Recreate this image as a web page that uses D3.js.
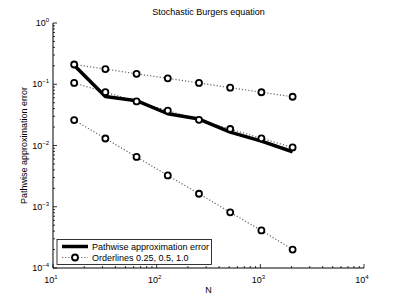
<!DOCTYPE html>
<html>
<head>
<meta charset="utf-8">
<script src="https://cdn.jsdelivr.net/npm/d3@7"></script>
<style>
  body { margin: 0; background: #fff; }
  text { font-family: "Liberation Sans", Arial, sans-serif; fill: #000; }
</style>
</head>
<body>
<div id="chart"></div>
<script>
// Data
const nValues = [16, 32, 64, 128, 256, 512, 1024, 2048];
const pathwiseError = [0.205, 0.063, 0.054, 0.033, 0.027, 0.0165, 0.0118, 0.0079];
const order025 = [0.21, 0.177, 0.148, 0.125, 0.105, 0.088, 0.074, 0.0625];
const order05 = [0.105, 0.0742, 0.0525, 0.0371, 0.0263, 0.0186, 0.0131, 0.0093];
const order10 = [0.026, 0.013, 0.0065, 0.00325, 0.00163, 0.00081, 0.00041, 0.0002];
const xDecades = [1, 2, 3, 4];
const yDecades = [0, -1, -2, -3, -4];

const width = 403, height = 303;
const mLeft = 53, mRight = 364, mTop = 23, mBottom = 268;

const svg = d3.select('#chart').append('svg')
  .attr('width', width)
  .attr('height', height);

const x = d3.scaleLog().domain([10, 10000]).range([mLeft, mRight]);
const y = d3.scaleLog().domain([1e-4, 1]).range([mBottom, mTop]);

// minor tick positions for each decade
function minorTicks(lo, hi) {
  const out = [];
  for (let e = lo; e < hi; e++) {
    for (let m = 2; m <= 9; m++) out.push(m * Math.pow(10, e));
  }
  return out;
}

// axes lines
svg.append('line').attr('x1', mLeft).attr('x2', mRight).attr('y1', mBottom).attr('y2', mBottom)
  .attr('stroke', '#000').attr('stroke-width', 1);
svg.append('line').attr('x1', mLeft).attr('x2', mLeft).attr('y1', mTop).attr('y2', mBottom)
  .attr('stroke', '#000').attr('stroke-width', 1);

// x ticks (inward)
svg.append('g').selectAll('line').data(minorTicks(1, 4)).enter().append('line')
  .attr('x1', d => x(d)).attr('x2', d => x(d))
  .attr('y1', mBottom).attr('y2', mBottom - 2)
  .attr('stroke', '#000').attr('stroke-width', 0.8);
svg.append('g').selectAll('line').data(xDecades).enter().append('line')
  .attr('x1', d => x(Math.pow(10, d))).attr('x2', d => x(Math.pow(10, d)))
  .attr('y1', mBottom).attr('y2', mBottom - 4)
  .attr('stroke', '#000').attr('stroke-width', 0.8);

// y ticks (inward)
svg.append('g').selectAll('line').data(minorTicks(-4, 0)).enter().append('line')
  .attr('y1', d => y(d)).attr('y2', d => y(d))
  .attr('x1', mLeft).attr('x2', mLeft + 2)
  .attr('stroke', '#000').attr('stroke-width', 0.8);
svg.append('g').selectAll('line').data(yDecades).enter().append('line')
  .attr('y1', d => y(Math.pow(10, d))).attr('y2', d => y(Math.pow(10, d)))
  .attr('x1', mLeft).attr('x2', mLeft + 4)
  .attr('stroke', '#000').attr('stroke-width', 0.8);

// tick labels with superscripts
const xl = svg.append('g').selectAll('text').data(xDecades).enter().append('text')
  .attr('x', d => x(Math.pow(10, d)) - 2)
  .attr('y', mBottom + 15)
  .attr('text-anchor', 'middle')
  .style('font-size', '9px');
xl.append('tspan').text('10');
xl.append('tspan').attr('dy', -4).style('font-size', '6px').text(d => d);

const yl = svg.append('g').selectAll('text').data(yDecades).enter().append('text')
  .attr('x', mLeft - 4)
  .attr('y', d => y(Math.pow(10, d)) + 3)
  .attr('text-anchor', 'end')
  .style('font-size', '9px');
yl.append('tspan').text('10');
yl.append('tspan').attr('dy', -4).style('font-size', '6px').text(d => d === 0 ? '0' : '\u2212' + (-d));

// title and axis labels
svg.append('text').attr('x', (mLeft + mRight) / 2).attr('y', 15)
  .attr('text-anchor', 'middle').style('font-size', '9px')
  .text('Stochastic Burgers equation');
svg.append('text').attr('x', (mLeft + mRight) / 2).attr('y', 293)
  .attr('text-anchor', 'middle').style('font-size', '9px')
  .text('N');
svg.append('text')
  .attr('transform', `translate(27,${(mTop + mBottom) / 2}) rotate(-90)`)
  .attr('text-anchor', 'middle').style('font-size', '9px')
  .text('Pathwise approximation error');

// order lines
const orderSeries = [order025, order05, order10];
const line = d3.line().x((d, i) => x(nValues[i])).y(d => y(d));

orderSeries.forEach(s => {
  svg.append('path').datum(s)
    .attr('d', line)
    .attr('fill', 'none')
    .attr('stroke', '#666')
    .attr('stroke-width', 1.2)
    .attr('stroke-dasharray', '1.2,2');
});

// error line
svg.append('path').datum(pathwiseError)
  .attr('d', line)
  .attr('fill', 'none')
  .attr('stroke', '#000')
  .attr('stroke-width', 3.5)
  .attr('stroke-linejoin', 'round');

orderSeries.forEach(s => {
  svg.append('g').selectAll('circle').data(s).enter().append('circle')
    .attr('cx', (d, i) => x(nValues[i]))
    .attr('cy', d => y(d))
    .attr('r', 3)
    .attr('fill', '#fff')
    .attr('stroke', '#000')
    .attr('stroke-width', 1.8);
});

// legend
const lg = svg.append('g');
lg.append('rect').attr('x', 57).attr('y', 239.5).attr('width', 154.5).attr('height', 25)
  .attr('fill', '#fff').attr('stroke', '#000').attr('stroke-width', 0.8);
lg.append('line').attr('x1', 62).attr('x2', 88).attr('y1', 246.5).attr('y2', 246.5)
  .attr('stroke', '#000').attr('stroke-width', 3.5);
lg.append('text').attr('x', 92).attr('y', 249.5).style('font-size', '9px')
  .text('Pathwise approximation error');
lg.append('line').attr('x1', 62).attr('x2', 88).attr('y1', 257.5).attr('y2', 257.5)
  .attr('stroke', '#666').attr('stroke-width', 1.2).attr('stroke-dasharray', '1.2,2');
lg.append('circle').attr('cx', 75).attr('cy', 257.5).attr('r', 3)
  .attr('fill', '#fff').attr('stroke', '#000').attr('stroke-width', 1.8);
lg.append('text').attr('x', 92).attr('y', 260.5).style('font-size', '9px')
  .text('Orderlines 0.25, 0.5, 1.0');
</script>
</body>
</html>
